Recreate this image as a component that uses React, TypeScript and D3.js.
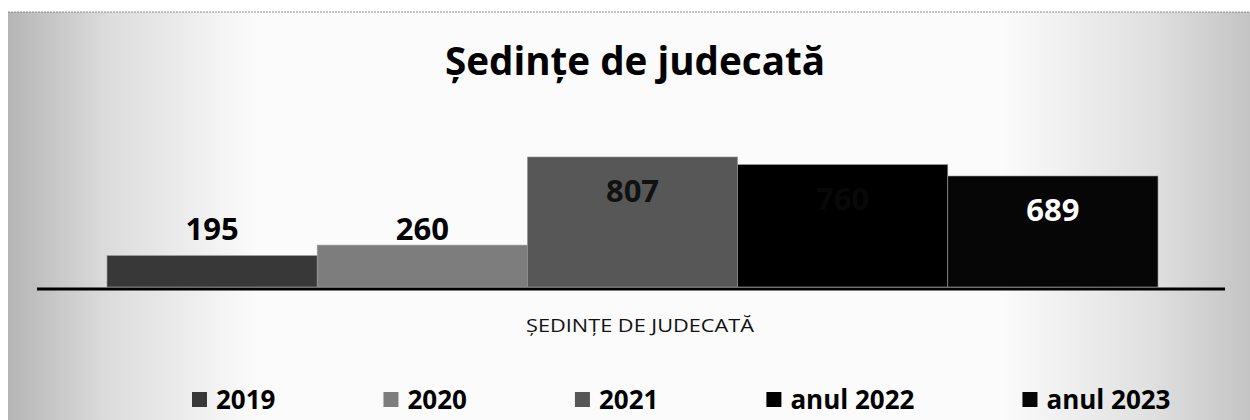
import React, { useEffect, useRef } from 'react'
import * as d3 from 'd3'

const years = ['2019', '2020', '2021', 'anul 2022', 'anul 2023']
const sessions = [195, 260, 807, 760, 689]
const fills = ['#383838', '#7d7d7d', '#575757', '#000000', '#060606']
const labelColors = ['#000', '#000', '#111', '#080808', '#fff']
const category = 'ȘEDINȚE DE JUDECATĂ'
const title = 'Ședințe de judecată'

const width = 1250
const height = 420
const font = '"Open Sans", "Noto Sans", sans-serif'

export default function App() {
  const ref = useRef<SVGSVGElement>(null)

  useEffect(() => {
    const svg = d3.select(ref.current)
    svg.selectAll('*').remove()

    // scanned-paper look: grey edges, white middle
    const defs = svg.append('defs')
    const grad = defs.append('linearGradient').attr('id', 'paper')
    grad.append('stop').attr('offset', '0%').attr('stop-color', '#b5b5b5')
    grad.append('stop').attr('offset', '8%').attr('stop-color', '#dcdcdc')
    grad.append('stop').attr('offset', '20%').attr('stop-color', '#fbfbfb')
    grad.append('stop').attr('offset', '80%').attr('stop-color', '#fbfbfb')
    grad.append('stop').attr('offset', '92%').attr('stop-color', '#e0e0e0')
    grad.append('stop').attr('offset', '100%').attr('stop-color', '#c4c4c4')

    svg.append('rect').attr('width', width).attr('height', height).attr('fill', '#fff')
    svg.append('rect')
      .attr('x', 8).attr('y', 12)
      .attr('width', width - 8).attr('height', height - 12)
      .attr('fill', 'url(#paper)')
    svg.append('line')
      .attr('x1', 8).attr('x2', width).attr('y1', 12).attr('y2', 12)
      .attr('stroke', '#888').attr('stroke-width', 1).attr('stroke-dasharray', '2 1')

    const x = d3.scaleBand().domain(years).range([107, 1158]).padding(0)
    const y = d3.scaleLinear().domain([0, 900]).range([287, 142])

    svg.append('text')
      .attr('x', 635).attr('y', 75)
      .attr('text-anchor', 'middle')
      .attr('font-family', font).attr('font-weight', 700).attr('font-size', 40)
      .attr('textLength', 380).attr('lengthAdjust', 'spacingAndGlyphs')
      .text(title)

    const bars = svg.append('g')
    bars.selectAll('rect')
      .data(sessions)
      .join('rect')
      .attr('x', (_, i) => x(years[i])!)
      .attr('y', d => y(d))
      .attr('width', x.bandwidth())
      .attr('height', d => y(0) - y(d))
      .attr('fill', (_, i) => fills[i])
      .attr('stroke', '#9a9a9a')
      .attr('stroke-width', 0.6)

    // small bars get their label above, shared baseline; tall ones inside
    const outsideTop = d3.min(sessions.filter(v => v < 400), v => y(v))!
    bars.selectAll('text')
      .data(sessions)
      .join('text')
      .attr('x', (_, i) => x(years[i])! + x.bandwidth() / 2)
      .attr('y', d => (d < 400 ? outsideTop - 5 : y(d) + 45))
      .attr('text-anchor', 'middle')
      .attr('font-family', font).attr('font-weight', 700).attr('font-size', 31)
      .attr('fill', (_, i) => labelColors[i])
      .text(d => d)

    // category axis
    svg.append('line')
      .attr('x1', 37).attr('x2', 1225)
      .attr('y1', y(0) + 2).attr('y2', y(0) + 2)
      .attr('stroke', '#000').attr('stroke-width', 3)

    svg.append('text')
      .attr('x', 640).attr('y', 332)
      .attr('text-anchor', 'middle')
      .attr('font-family', font).attr('font-size', 18)
      .attr('textLength', 228).attr('lengthAdjust', 'spacingAndGlyphs')
      .attr('fill', '#111')
      .text(category)

    // legend
    const legend = svg.append('g').attr('transform', 'translate(0, 400)')
    let cx = 192
    years.forEach((yr, i) => {
      const item = legend.append('g').attr('transform', `translate(${cx}, 0)`)
      item.append('rect')
        .attr('x', 0).attr('y', -8).attr('width', 15).attr('height', 15)
        .attr('fill', fills[i])
      const t = item.append('text')
        .attr('x', 24).attr('y', 9)
        .attr('font-family', font).attr('font-weight', 700).attr('font-size', 26)
        .text(yr)
      const w = (t.node() as SVGTextElement).getComputedTextLength()
      cx += 24 + w + 108
    })
  }, [])

  return (
    <svg
      ref={ref}
      width={width}
      height={height}
      style={{ position: 'absolute', left: 0, top: 0, display: 'block' }}
    />
  )
}
